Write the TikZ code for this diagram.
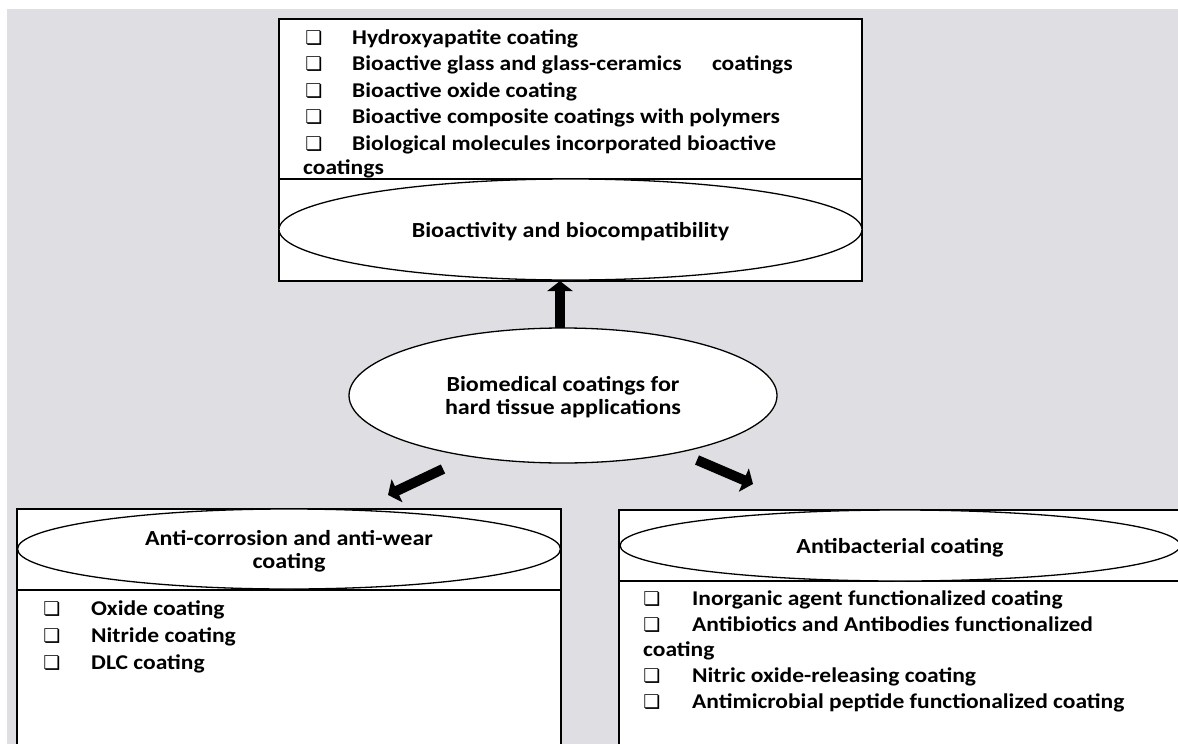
\documentclass[tikz,border=0pt]{standalone}
\usepackage{fontspec}
\setmainfont{Carlito}[FakeStretch=1.12]
\newfontfamily\dvfont{DejaVu Sans}
\usetikzlibrary{shapes.geometric,arrows.meta}
\definecolor{bggray}{RGB}{223,222,227}
\begin{document}
\begin{tikzpicture}[x=1pt,y=-1pt,
  item/.style={anchor=base west, inner sep=0pt, font=\fontsize{21}{26}\selectfont\bfseries},
  chk/.style={anchor=base, inner sep=0pt, font=\fontsize{19}{19}\selectfont\dvfont\bfseries},
  oval/.style={ellipse, draw, line width=1.3pt, fill=white, inner sep=0pt, align=center, text depth=0pt, font=\fontsize{21.5}{23}\selectfont\bfseries},
  panel/.style={draw, line width=2pt, fill=white, inner sep=0pt, outer sep=0pt},
  divider/.style={line width=1.3pt},
  bigarrow/.style={line width=10pt, -{Triangle[width=25pt,length=10pt]}}]
\useasboundingbox (0,0) rectangle (1178,744);
\clip (0,0) rectangle (1178,744);
\fill[white] (0,0) rectangle (1178,744);
\fill[bggray] (7,9) rectangle (1178,744);

% top panel
\node[panel, minimum width=583pt, minimum height=262pt, anchor=north west] (topbox) at (279,19) {};
\draw[divider] (279,179) -- (862,179);
\node[oval, minimum width=583pt, minimum height=101pt] (bio) at (570.5,229.5) {Bioactivity and biocompatibility};

\node[chk] (t1c) at (314,44) {❏};
\node[item] (t1) at (352,44) {Hydroxyapatite coating};
\node[chk] (t2c) at (314,70) {❏};
\node[item] (t2) at (352,70) {Bioactive glass and glass-ceramics\hspace{25pt} coatings};
\node[chk] (t3c) at (314,97) {❏};
\node[item] (t3) at (352,97) {Bioactive oxide coating};
\node[chk] (t4c) at (314,123) {❏};
\node[item] (t4) at (352,123) {Bioactive composite coatings with polymers};
\node[chk] (t5c) at (314,150) {❏};
\node[item] (t5) at (352,150) {Biological molecules incorporated bioactive};
\node[item] (t6) at (303,174) {coatings};

% hub
\node[oval, minimum width=428pt, minimum height=135pt] (hub) at (563,395.5) {Biomedical coatings for\\hard tissue applications};

% left panel
\node[panel, minimum width=544pt, minimum height=300pt, anchor=north west] (lbox) at (17,509) {};
\draw[divider] (17,590) -- (561,590);
\node[oval, minimum width=543pt, minimum height=80pt] (wear) at (289,549) {Anti-corrosion and anti-wear\\coating};
\node[chk] (l1c) at (52,615) {❏};
\node[item] (l1) at (91,615) {Oxide coating};
\node[chk] (l2c) at (52,642) {❏};
\node[item] (l2) at (91,642) {Nitride coating};
\node[chk] (l3c) at (52,669) {❏};
\node[item] (l3) at (91,669) {DLC coating};

% right panel
\node[panel, minimum width=565pt, minimum height=300pt, anchor=north west] (rbox) at (619,510) {};
\draw[divider] (619,581) -- (1184,581);
\node[oval, minimum width=560pt, minimum height=71pt] (anti) at (900,545.5) {Antibacterial coating};
\node[chk] (r1c) at (652,605) {❏};
\node[item] (r1) at (692,605) {Inorganic agent functionalized coating};
\node[chk] (r2c) at (652,631) {❏};
\node[item] (r2) at (692,631) {Antibiotics and Antibodies functionalized};
\node[item] (r3) at (643,656) {coating};
\node[chk] (r4c) at (652,682) {❏};
\node[item] (r4) at (692,682) {Nitric oxide-releasing coating};
\node[chk] (r5c) at (652,708) {❏};
\node[item] (r5) at (692,708) {Antimicrobial peptide functionalized coating};

% arrows
\coordinate (upA) at (560,328);
\coordinate (upB) at (560,281);
\coordinate (lfA) at (443,469);
\coordinate (lfB) at (388,495);
\coordinate (rtA) at (697,460);
\coordinate (rtB) at (753,484);
\draw[bigarrow] (upA) -- (upB);
\draw[bigarrow] (lfA) -- (lfB);
\draw[bigarrow] (rtA) -- (rtB);
\end{tikzpicture}
\end{document}
